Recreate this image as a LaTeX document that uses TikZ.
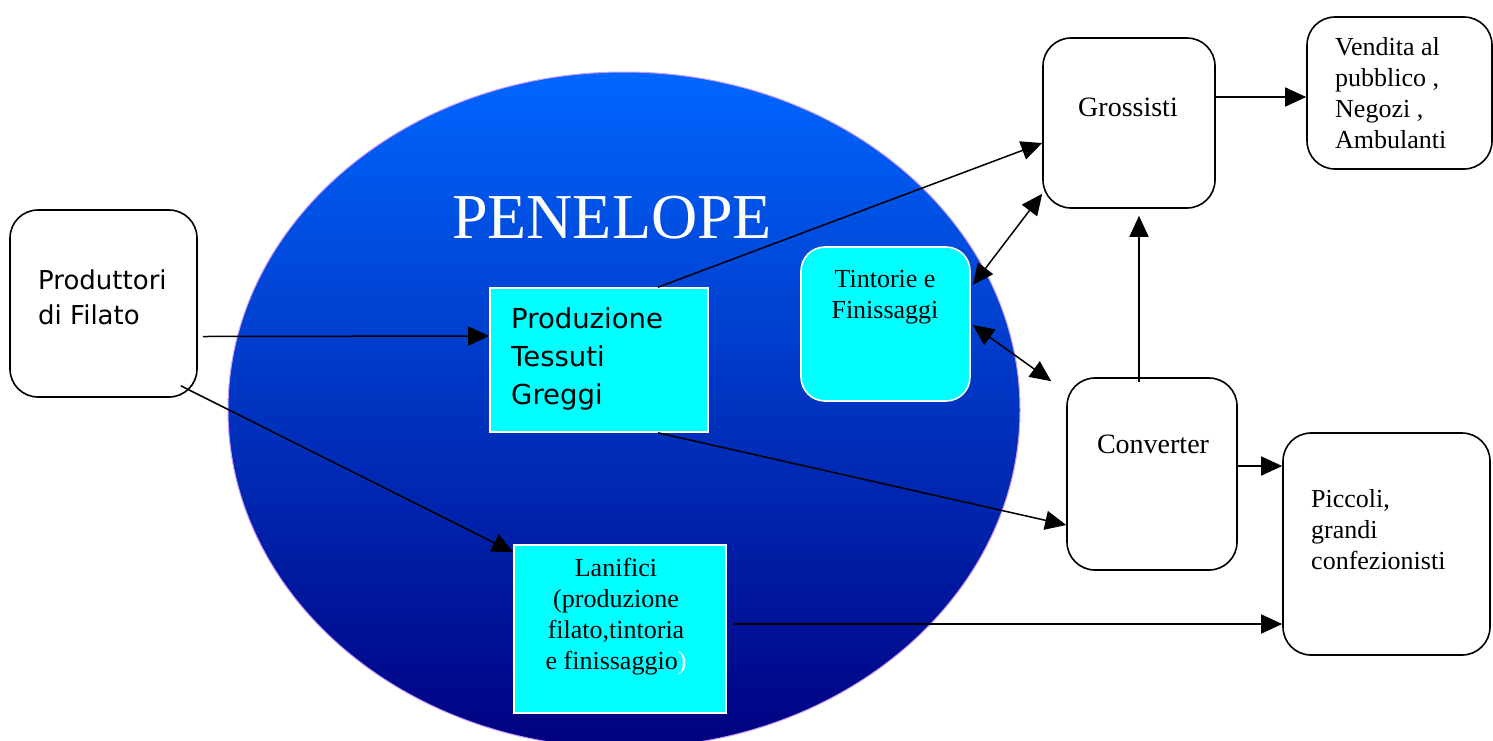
\documentclass[tikz,border=0pt]{standalone}
\usepackage{fontspec}
\setmainfont{Liberation Serif}
\newfontfamily\tahoma{DejaVu Sans}
\usetikzlibrary{arrows.meta,shapes.geometric}

\definecolor{penetop}{RGB}{0,102,255}
\definecolor{penemid}{RGB}{0,76,222}
\definecolor{penebot}{RGB}{0,0,128}
\definecolor{penerim}{RGB}{204,153,255}
\definecolor{boxcyan}{RGB}{0,255,255}

\begin{document}
\begin{tikzpicture}[
        x=1pt, y=-1pt,
        softbox/.style = {rectangle, draw=black, line width=1.6pt, rounded corners=28pt, fill=white, inner sep=0pt},
        cyanbox/.style = {rectangle, draw=white, line width=1.6pt, fill=boxcyan, inner sep=0pt},
        flow/.style = {-{Triangle[length=21pt,width=19pt]}, line width=1.5pt},
        twoway/.style = {{Triangle[length=21pt,width=19pt]}-{Triangle[length=21pt,width=19pt]}, line width=1.5pt},
        serif text/.style = {font=\fontsize{26}{31}\selectfont, inner sep=0pt},
        sans text/.style = {font=\tahoma\fontsize{26}{35}\selectfont, inner sep=0pt}
    ]

    \useasboundingbox (0,0) rectangle (1493,740);
    \fill[white] (0,0) rectangle (1493,740);

    %penelope
    \node[ellipse, minimum width=792pt, minimum height=676pt, inner sep=0pt, draw=penerim, line width=1pt,
          top color=penetop, middle color=penemid, bottom color=penebot] (penel) at (624,410) {};
    \node[text=white, font=\fontsize{64}{64}\selectfont, inner sep=0pt] (penelT) at (612,218) {PENELOPE};

    %nodes
    \node[softbox, minimum width=187pt, minimum height=187pt] (prodfil) at (103.5,303.5) {};
    \node[sans text, align=left, anchor=west] (prodfilT) at (38,297) {Produttori\\di Filato};
    \node[cyanbox, minimum width=218pt, minimum height=144pt] (prodtes) at (599,360) {};
    \node[sans text, font=\tahoma\fontsize{27.5}{38}\selectfont, align=left, anchor=west] (prodtesT) at (511,359) {Produzione\\Tessuti\\Greggi};
    \node[cyanbox, minimum width=212pt, minimum height=168pt] (lanif) at (620,629) {};
    \node[serif text, align=center] (lanifT) at (616,617) {Lanifici\\(produzione\\filato,tintoria\\e finissaggio\textcolor{white}{)}};
    \node[cyanbox, rounded corners=24pt, minimum width=169pt, minimum height=154pt] (tint) at (885.5,324) {};
    \node[serif text, align=center] (tintT) at (885,297) {Tintorie e\\Finissaggi};
    \node[softbox, minimum width=172pt, minimum height=170pt] (gross) at (1129,123) {};
    \node[serif text, font=\fontsize{28}{33}\selectfont] (grossT) at (1128,107) {Grossisti};
    \node[softbox, minimum width=185pt, minimum height=152pt] (vend) at (1399.5,93) {};
    \node[serif text, align=left, anchor=west] (vendT) at (1335,93.5) {Vendita al\\pubblico ,\\Negozi ,\\Ambulanti};
    \node[softbox, minimum width=170pt, minimum height=192pt] (conv) at (1152,474) {};
    \node[serif text, font=\fontsize{28}{33}\selectfont] (convT) at (1153,444) {Converter};
    \node[softbox, minimum width=207pt, minimum height=222pt] (picc) at (1386.5,544) {};
    \node[serif text, align=left, anchor=west] (piccT) at (1311,530) {Piccoli,\\grandi\\confezionisti};

    % arrows
    \draw[flow] ([shift={(5,33)}]prodfil.east) -- ([shift={(0,-24)}]prodtes.west);
    \draw[flow] ([shift={(-17,-12)}]prodfil.south east) -- ([shift={(0,8)}]lanif.north west);
    \draw[flow] ([xshift=59pt]prodtes.north) -- ([shift={(0,20)}]gross.west);
    \draw[flow] ([xshift=59pt]prodtes.south) -- ([shift={(0,51)}]conv.west);
    \draw[flow] ([shift={(7,-5)}]lanif.east) -- ([shift={(0,80)}]picc.west);
    \draw[flow] ([shift={(-2,-26)}]gross.east) -- ([shift={(0,4)}]vend.west);
    \draw[flow] ([shift={(-13,5)}]conv.north) -- ([shift={(10,7)}]gross.south);
    \draw[flow] ([shift={(0,-8)}]conv.east) -- ([shift={(0,-78)}]picc.west);
    \draw[twoway] ([shift={(2,-39)}]tint.east) -- ([shift={(0,-15)}]gross.south west);
    \draw[twoway] ([shift={(2,1)}]tint.east) -- ([shift={(-15,4)}]conv.north west);

\end{tikzpicture}
\end{document}
